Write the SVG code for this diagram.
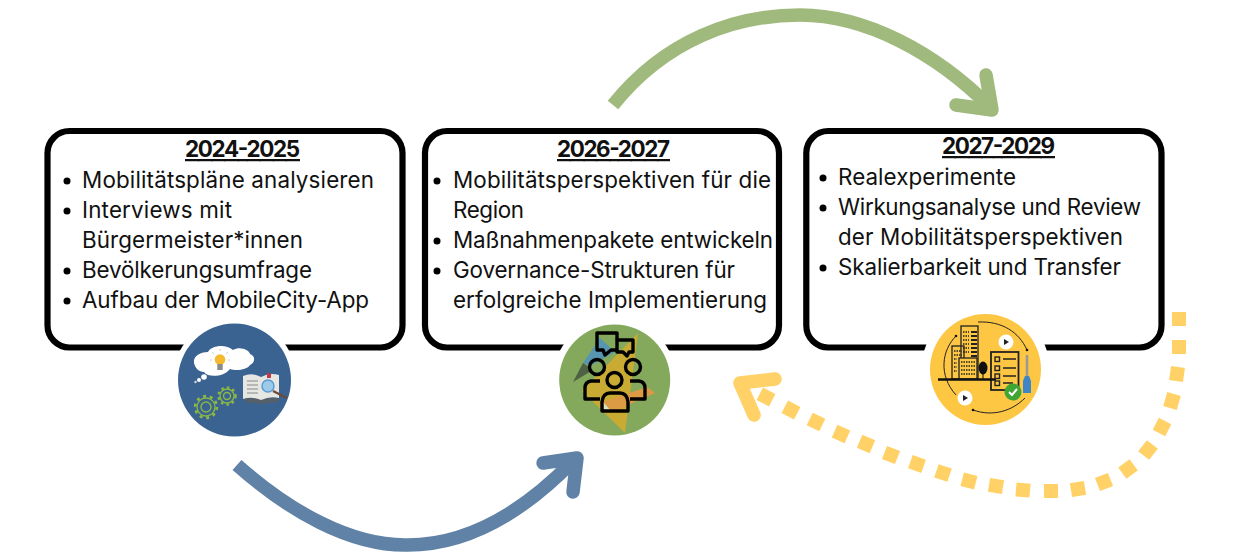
<svg xmlns="http://www.w3.org/2000/svg" width="1240" height="557" viewBox="0 0 1240 557">
<style>
.box{fill:#fff;stroke:#000;stroke-width:6.2}
.halo{fill:#fff}
.t{font-family:"Inter","Noto Sans",sans-serif;font-size:22.4px;fill:#111}
.h{font-family:"Inter","Noto Sans",sans-serif;font-size:22.4px;font-weight:700;fill:#111;text-decoration:underline}
.b{fill:#000}
.ar{fill:none;stroke-width:13.500}
.hd{fill:none;stroke-width:13.500;stroke-linecap:round;stroke-linejoin:round}
.ol{fill:none;stroke:#000;stroke-width:3.4;stroke-linejoin:round}
.gear{fill:none;stroke:#8bb745}
.thin{fill:none;stroke:#222;stroke-width:1}
.bld{fill:none;stroke:#222;stroke-width:1.300}
</style>
<rect width="1240" height="557" fill="#fff"/>
<g id="connectors">
<g id="arrow-blue"><path class="ar" stroke="#6082a6" d="M237 465C290 512 350 545 405 545C465 546 520 515 572 462"/><path class="hd" stroke="#6082a6" d="M543 463L577 458L573 492"/></g>
<g id="arrow-green"><path class="ar" stroke="#9fba7c" d="M613 105C665 40 735 15 800 15C865 15 935 52 990 107"/><path class="hd" stroke="#9fba7c" d="M986 75L992 110L956 105"/></g>
<g id="arrow-yellow"><path fill="none" stroke="#ffd166" stroke-width="14" d="M1179 312V326M1179 340V354M1178 367L1176 381M1174 394L1170 408M1165 421L1159 433M1152.400 444.500L1143.600 455.500M1133.700 464.900L1122.300 473.100M1110.500 479.400L1097.500 484.600M1085 487.800L1071 490.200M1058 490.900L1044 491.100M1030 490.600L1016 489.400M1003 487.100L989 484.900M975.800 482.700L962.200 479.300M949.600 475.200L936.400 470.800M923.600 466.300L910.400 461.700M897.500 457.600L884.500 452.400M872.400 446.700L859.600 441.300M847.400 436.800L834.600 431.200M822.300 425L809.700 419M797.200 413.200L784.800 406.800M772.200 400.200L759.800 393.800"/><path class="hd" stroke="#ffd166" d="M775 379L740 383L754 415"/></g>
</g>
<g id="node-2024">
<rect class="box" x="47.500" y="131" width="355" height="216.500" rx="22"/>
<circle class="halo" cx="234.500" cy="380" r="62"/>
<text class="h" x="185" y="157" textLength="115">2024-2025</text>
<circle class="b" cx="67" cy="181" r="3.500"/><circle class="b" cx="67" cy="211" r="3.500"/><circle class="b" cx="67" cy="271" r="3.500"/><circle class="b" cx="67" cy="301" r="3.500"/>
<text class="t" x="82" y="188" textLength="292">Mobilitätspläne analysieren</text>
<text class="t" x="82" y="218" textLength="150">Interviews mit</text>
<text class="t" x="82" y="248" textLength="221">Bürgermeister*innen</text>
<text class="t" x="82" y="278" textLength="230">Bevölkerungsumfrage</text>
<text class="t" x="82" y="308" textLength="287">Aufbau der MobileCity-App</text>
<g id="icon-2024">
<circle cx="234.500" cy="380" r="56.500" fill="#3a6391"/>
<path fill="#fff" d="M194 363C193 356 200 352 208 352C212 345 226 344 233 350C240 346 249 350 250 354C256 356 255 363 250 365C247 370 236 371 230 369C224 377 208 378 204 372C199 372 195 368 194 363Z"/>
<circle cx="204" cy="377" r="2.800" fill="#fff"/><circle cx="199" cy="380" r="2" fill="#fff"/><circle cx="195.500" cy="382" r="1.200" fill="#ddd"/>
<path d="M220 349V351M212 352L214 354M228 352L226 354M210 360H212M228 360H230" stroke="#ccc" stroke-width="1"/>
<circle cx="220" cy="359.500" r="5.300" fill="#f4b92f"/><rect x="217.300" y="364" width="5.400" height="6" fill="#8a8a8a"/>
<circle class="gear" stroke-width="1.400" cx="206" cy="407" r="5"/><circle class="gear" stroke-width="1.300" cx="206" cy="407" r="9"/><circle class="gear" stroke-width="2.800" cx="206" cy="407" r="10.800" stroke-dasharray="3 3.800"/>
<circle class="gear" stroke-width="1.400" cx="227" cy="396" r="3.500"/><circle class="gear" stroke-width="1.300" cx="227" cy="396" r="7"/><circle class="gear" stroke-width="2.500" cx="227" cy="396" r="8.500" stroke-dasharray="2.500 3.170"/>
<path fill="#55606b" d="M244 398H279L278 402L262 404L245 402Z"/>
<path fill="#e6e6e3" d="M243 376Q252 372 261 377Q270 372 279 375V398Q270 396 261 400Q252 396 243 399Z"/>
<path d="M247 381H258M247 385H258M247 389H258M247 393H258" stroke="#a8a8a8" stroke-width="1.300"/>
<rect x="267" y="373" width="4" height="5" fill="#c0394b"/>
<path d="M273 391L287 398" stroke="#6b4b3a" stroke-width="2.500"/>
<circle cx="268" cy="386" r="6" fill="#9ccbea" stroke="#5b9bd5" stroke-width="1.500"/>
</g>
</g>
<g id="node-2026">
<rect class="box" x="425" y="131" width="354" height="216.500" rx="22"/>
<circle class="halo" cx="614.500" cy="380" r="62"/>
<text class="h" x="557" y="157" textLength="113">2026-2027</text>
<circle class="b" cx="437" cy="181" r="3.500"/><circle class="b" cx="437" cy="241" r="3.500"/><circle class="b" cx="437" cy="271" r="3.500"/>
<text class="t" x="453" y="188" textLength="318">Mobilitätsperspektiven für die</text>
<text class="t" x="453" y="218" textLength="71">Region</text>
<text class="t" x="453" y="248" textLength="320">Maßnahmenpakete entwickeln</text>
<text class="t" x="453" y="278" textLength="282">Governance-Strukturen für</text>
<text class="t" x="453" y="308" textLength="314">erfolgreiche Implementierung</text>
<g id="icon-2026">
<circle cx="614.700" cy="380" r="55.500" fill="#84a95c"/>
<path fill="#c9ab33" d="M638 333L582 391L625 433Z"/>
<path fill="#5795b0" d="M600 338L615 352L590 366L583 363Z"/>
<path fill="#4f6145" d="M583 363L593 370L573 382Z"/>
<path fill="#dd9a45" d="M603 402L647 387L655 393L612 412Z"/>
<path fill="#d8e2c8" d="M603 402L612 412L604 409Z"/>
<path class="ol" d="M617 340V333H597V350H603L605 355L611 350H617"/>
<path class="ol" d="M617 340H633V352H629L627 356L623 352H617Z"/>
<circle class="ol" cx="597" cy="367" r="7.500"/><circle class="ol" cx="633" cy="367" r="7.500"/><circle class="ol" cx="614.500" cy="380" r="7.500"/>
<path class="ol" d="M600 381H591Q585 382 585 388V399H600"/>
<path class="ol" d="M630 381H639Q645 382 645 388V399H630"/>
<path class="ol" d="M602 411V402Q603 393 610 393H620Q627 393 628 402V411Z"/>
</g>
</g>
<g id="node-2027">
<rect class="box" x="806.300" y="131" width="355.200" height="216.500" rx="22"/>
<circle class="halo" cx="985.500" cy="369" r="64"/>
<text class="h" x="942" y="154" textLength="113">2027-2029</text>
<circle class="b" cx="823" cy="178" r="3.500"/><circle class="b" cx="823" cy="208" r="3.500"/><circle class="b" cx="823" cy="268" r="3.500"/>
<text class="t" x="838" y="185" textLength="178">Realexperimente</text>
<text class="t" x="838" y="215" textLength="303">Wirkungsanalyse und Review</text>
<text class="t" x="838" y="245" textLength="285">der Mobilitätsperspektiven</text>
<text class="t" x="838" y="275" textLength="283">Skalierbarkeit und Transfer</text>
<g id="icon-2027">
<circle cx="985.500" cy="369.500" r="55.500" fill="#fdc643"/>
<path class="thin" d="M978 322C1002 321 1019 332 1027 350"/><path class="thin" d="M956 336C942 350 938 375 956 395"/><path class="thin" d="M973 410C993 417 1012 411 1025 398"/>
<circle cx="1027" cy="350" r="1.300" fill="#111"/><circle cx="956" cy="336" r="1.300" fill="#111"/><circle cx="973" cy="410" r="1.300" fill="#111"/>
<rect class="bld" x="961" y="326" width="17" height="53"/><rect class="bld" x="952" y="346" width="12" height="33"/><rect x="959" y="358" width="18" height="21" fill="#fdc643" stroke="#222" stroke-width="1.300"/>
<path d="M971 332H977M971 336H977M971 340H977M971 344H977M971 348H977M971 352H977M971 356H977" stroke="#222" stroke-width="1.800"/>
<path d="M963 332H969M963 336H969M963 340H969M963 344H969M963 348H969M963 352H969" stroke="#222" stroke-width="1.300" stroke-dasharray="1.500 1"/>
<path d="M954 351H962M954 355H962M954 359H957M954 363H957M954 367H957M954 371H957M961 362H975M961 366H975M961 370H975M961 374H975" stroke="#222" stroke-width="1.300" stroke-dasharray="1.500 1"/>
<ellipse cx="983" cy="368" rx="4.500" ry="6.500" fill="#111"/><path d="M983 368V379" stroke="#111"/>
<rect x="991" y="352" width="27.500" height="38" fill="none" stroke="#222" stroke-width="1.800"/>
<path d="M938 379.500H996" stroke="#111" stroke-width="2.500"/>
<path d="M1003 359H1016M1003 368H1016M1003 376H1016M1003 383H1013" stroke="#222" stroke-width="1.500"/>
<g fill="none" stroke="#222" stroke-width="1.400"><rect x="995" y="357" width="4.500" height="4.500"/><rect x="995" y="366" width="4.500" height="4.500"/><rect x="995" y="374" width="4.500" height="4.500"/><rect x="995" y="381" width="4.500" height="4.500"/></g>
<circle cx="1013" cy="392" r="8.500" fill="#3fa535"/><path d="M1009 392L1012 395L1017 389" fill="none" stroke="#fff" stroke-width="2"/>
<path d="M1027 355V376" stroke="#999" stroke-width="2.500"/><path d="M1025 376H1029L1031 381V393H1023V381Z" fill="#3f86c8"/>
<circle cx="1006" cy="342" r="7.500" fill="#fff"/><path d="M1004 339L1009 342L1004 345Z" fill="#222"/>
<circle cx="965" cy="398" r="7.500" fill="#fff"/><path d="M963 395L968 398L963 401Z" fill="#222"/>
</g>
</g>
</svg>
